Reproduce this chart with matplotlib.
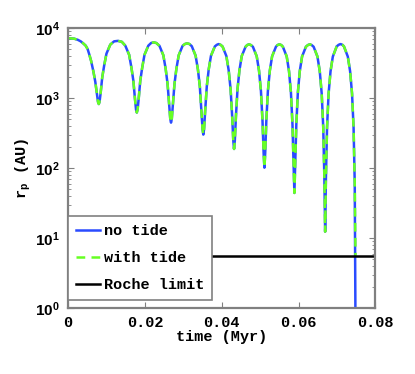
import math
import matplotlib
matplotlib.use("Agg")
import matplotlib.pyplot as plt
from matplotlib.ticker import FixedLocator, FuncFormatter, LogLocator, NullFormatter

plt.rcParams['font.family'] = ['Liberation Mono', 'DejaVu Sans Mono']
plt.rcParams['font.weight'] = 'bold'
plt.rcParams['mathtext.fontset'] = 'custom'
plt.rcParams['mathtext.bf'] = 'Liberation Sans:bold'
plt.rcParams['mathtext.rm'] = 'Liberation Sans:bold'
plt.rcParams['mathtext.it'] = 'Liberation Mono:bold'

# time in Myr, pericentre distance in AU
time_no_tide = [
    0.0, 0.0008, 0.0016, 0.0025, 0.0033, 0.0040, 0.0046, 0.0051, 0.0055, 0.0060, 0.0066, 0.0071, 0.0075, 0.0078, 0.0080,
    0.0082, 0.0085, 0.0089, 0.0094, 0.0100, 0.0110, 0.0120, 0.0130, 0.0140, 0.0149, 0.0159, 0.0165, 0.0170, 0.0174, 0.0177, 0.0179,
    0.0181, 0.0184, 0.0188, 0.0193, 0.0199, 0.0209, 0.0216, 0.0223, 0.0230, 0.0238, 0.0248, 0.0254, 0.0259, 0.0263, 0.0266, 0.0268,
    0.0270, 0.0273, 0.0277, 0.0282, 0.0288, 0.0298, 0.0304, 0.0310, 0.0316, 0.0322, 0.0332, 0.0338, 0.0343, 0.0347, 0.0350, 0.0352,
    0.0354, 0.0357, 0.0361, 0.0366, 0.0372, 0.0382, 0.0387, 0.0392, 0.0397, 0.0402, 0.0412, 0.0418, 0.0423, 0.0427, 0.0430, 0.0432,
    0.0434, 0.0437, 0.0441, 0.0446, 0.0452, 0.0462, 0.0466, 0.0471, 0.0476, 0.0481, 0.0491, 0.0497, 0.0502, 0.0506, 0.0509, 0.0511,
    0.0513, 0.0516, 0.0520, 0.0525, 0.0531, 0.0541, 0.0545, 0.0550, 0.0555, 0.0559, 0.0569, 0.0575, 0.0580, 0.0584, 0.0587, 0.0589,
    0.0591, 0.0594, 0.0598, 0.0603, 0.0609, 0.0619, 0.0624, 0.0629, 0.0634, 0.0639, 0.0649, 0.0655, 0.0660, 0.0664, 0.0667, 0.0669,
    0.0671, 0.0674, 0.0678, 0.0683, 0.0689, 0.0699, 0.0704, 0.0709, 0.0714, 0.0718, 0.0728, 0.0734, 0.0739, 0.0743, 0.0746, 0.0748,
]
rp_no_tide = [
    7130, 7110, 7040, 6800, 6450, 6000, 5590, 5000, 4250, 3400, 2400, 1700, 1150, 880, 820,
    880, 1195, 1970, 2900, 4300, 5800, 6450, 6550, 6350, 5600, 4150, 2710, 1770, 995, 680, 620,
    680, 995, 1770, 2710, 4150, 5600, 6100, 6250, 6100, 5550, 4080, 2620, 1595, 820, 505, 445,
    505, 820, 1595, 2620, 4080, 5550, 5900, 6050, 5900, 5500, 4020, 2550, 1450, 675, 360, 300,
    360, 675, 1450, 2550, 4020, 5450, 5750, 5900, 5750, 5450, 3975, 2490, 1337, 562, 247, 187,
    247, 562, 1337, 2490, 3975, 5400, 5700, 5850, 5700, 5400, 3940, 2450, 1251, 476, 161, 101,
    161, 476, 1251, 2450, 3940, 5400, 5700, 5850, 5700, 5400, 3920, 2420, 1194, 419, 104, 44,
    104, 419, 1194, 2420, 3920, 5400, 5700, 5850, 5700, 5400, 3905, 2405, 1162, 387, 72, 12.3,
    72, 387, 1162, 2405, 3905, 5450, 5750, 5900, 5750, 5450, 3900, 2400, 1150, 375, 60, 0.5,
]
time_with_tide = time_no_tide
rp_with_tide = rp_no_tide[:-1] + [5.6]

roche_limit = 5.6
x_ticks = [0, 0.02, 0.04, 0.06, 0.08]
x_tick_labels = ['0', '0.02', '0.04', '0.06', '0.08']
y_ticks = [1, 10, 100, 1000, 10000]

fig = plt.figure(figsize=(4.15, 3.74), dpi=100)
ax = fig.add_axes([0.1639, 0.1765, 0.7409, 0.7486])

ax.plot(time_no_tide, rp_no_tide, color='#2a4bff', lw=1.8, label='no tide')
ax.plot(time_with_tide, rp_with_tide, color='#66ff22', lw=1.8, ls=(0, (3.5, 2.5)), label='with tide')
ax.axhline(roche_limit, color='black', lw=1.8, label='Roche limit')

ax.set_yscale('log')
ax.set_xlim(0, 0.08)
ax.set_ylim(1, 1e4)
ax.xaxis.set_major_locator(FixedLocator(x_ticks))
ax.set_xticklabels(x_tick_labels)
ax.yaxis.set_major_locator(FixedLocator(y_ticks))
ax.yaxis.set_major_formatter(FuncFormatter(lambda v, p: r'$\mathbf{10^{%d}}$' % round(math.log10(v))))
ax.yaxis.set_minor_locator(LogLocator(base=10, subs=range(2, 10)))
ax.yaxis.set_minor_formatter(NullFormatter())

for s in ax.spines.values():
    s.set_color('#808080')
    s.set_linewidth(1.6)
ax.tick_params(which='both', direction='in', top=True, right=True, color='#808080', labelsize=11)
ax.tick_params(which='major', length=4, width=0.8, pad=6)
ax.tick_params(which='minor', length=2.5, width=0.6)

ax.set_xlabel('time (Myr)', fontsize=11, fontweight='bold', labelpad=0)
ax.set_ylabel(r'r$_\mathregular{p}$ (AU)', fontsize=11, fontweight='bold', labelpad=1)

leg = ax.legend(loc='lower left', bbox_to_anchor=(0.0, 0.03), borderaxespad=0,
                prop={'family': 'Liberation Mono', 'weight': 'bold', 'size': 11},
                handlelength=1.6, handletextpad=0.25, labelspacing=0.85,
                fancybox=False, framealpha=1, edgecolor='#808080', borderpad=0.5)
leg.get_frame().set_linewidth(1.2)

fig.savefig('out.png', dpi=100)
